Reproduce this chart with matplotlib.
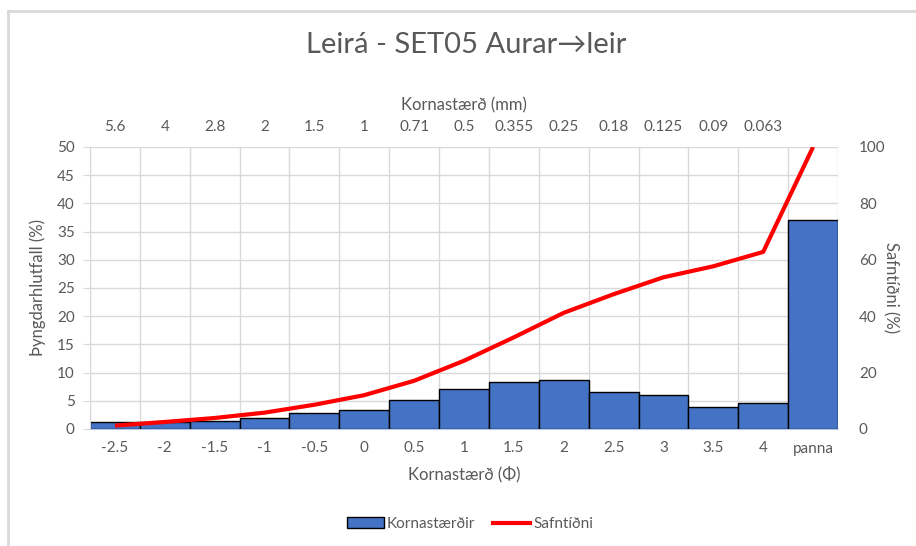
import matplotlib.pyplot as plt
from matplotlib.lines import Line2D
from matplotlib.patches import Patch

phi_labels = ['-2.5', '-2', '-1.5', '-1', '-0.5', '0', '0.5', '1', '1.5', '2',
              '2.5', '3', '3.5', '4', 'panna']
mm_labels = ['5.6', '4', '2.8', '2', '1.5', '1', '0.71', '0.5', '0.355', '0.25',
             '0.18', '0.125', '0.09', '0.063']
weight_pct = [1.3, 1.2, 1.4, 1.9, 2.8, 3.4, 5.1, 7.1, 8.3, 8.7, 6.6, 6.0, 3.9, 4.6, 37.1]
cumulative_pct = [1.2, 2.5, 3.9, 5.8, 8.6, 12.0, 17.1, 24.2, 32.5, 41.2, 47.8, 53.8,
                  57.7, 62.8, 100.0]

plt.rcParams['font.family'] = ['Lato', 'DejaVu Sans']
grey = '#595959'
grid = '#d9d9d9'

fig = plt.figure(figsize=(9.16, 5.46), dpi=100)
ax = fig.add_axes([90/916, 1-429/546, (838-90)/916, (429-147)/546])
x = list(range(len(phi_labels)))

ax.bar(x, weight_pct, width=1.0, color='#4472c4', edgecolor='black', linewidth=1.0, zorder=2)
ax.set_xlim(-0.5, len(x) - 0.5)
ax.set_ylim(0, 50)
ax.set_yticks(range(0, 51, 5))
ax.set_xticks(x)
ax.set_xticklabels(phi_labels)
ax.set_xticks([i + 0.5 for i in range(-1, len(x))], minor=True)
ax.grid(True, which='minor', axis='x', color=grid, lw=1)
ax.grid(True, which='major', axis='y', color=grid, lw=1)
ax.set_axisbelow(True)
for s in ['top', 'right']:
    ax.spines[s].set_visible(False)
ax.spines['left'].set_color(grid)
ax.spines['bottom'].set_color('#b4c7e7')
ax.tick_params(axis='x', which='both', length=0, labelsize=11, colors=grey, pad=9)
ax.tick_params(axis='y', length=5, color=grid, labelsize=11, colors=grey, pad=6)
ax.set_xlabel('Kornastærð (Φ)', fontsize=12, color=grey, labelpad=8)
ax.set_ylabel('Þyngdarhlutfall (%)', fontsize=12, color=grey, labelpad=8)

top = ax.secondary_xaxis('top')
top.set_xticks(x[:-1])
top.set_xticklabels(mm_labels)
top.tick_params(length=0, labelsize=11, colors=grey, pad=9)
top.spines['top'].set_visible(False)
top.set_xlabel('Kornastærð (mm)', fontsize=12, color=grey, labelpad=7)

ax2 = ax.twinx()
ax2.plot(x, cumulative_pct, color='#ff0000', lw=3, solid_capstyle='butt', zorder=3)
ax2.set_ylim(0, 100)
ax2.set_yticks(range(0, 101, 20))
for s in ax2.spines.values():
    s.set_visible(False)
ax2.tick_params(axis='y', length=0, labelsize=11, colors=grey, pad=15)
ax2.set_ylabel('Safntíðni (%)', fontsize=12, color=grey, rotation=270, va='bottom', labelpad=-2)

fig.text(0.509, 1-45/546, 'Leirá - SET05 Aurar→leir', ha='center', va='center',
         fontsize=21, color=grey)

handles = [Patch(facecolor='#4472c4', edgecolor='black', label='Kornastærðir'),
           Line2D([0], [0], color='#ff0000', lw=3, label='Safntíðni')]
fig.legend(handles=handles, loc='center', bbox_to_anchor=(470/916, 1-524/546), ncol=2,
           frameon=False, fontsize=11, labelcolor=grey, handlelength=2.4,
           handletextpad=0.2, columnspacing=1.2)

# chart border
fig.add_artist(Line2D([8/916, 8/916], [0, 1-11/546], color=grid, lw=2))
fig.add_artist(Line2D([8/916, 1], [1-11/546, 1-11/546], color=grid, lw=2))

fig.savefig('out.png', dpi=100)
